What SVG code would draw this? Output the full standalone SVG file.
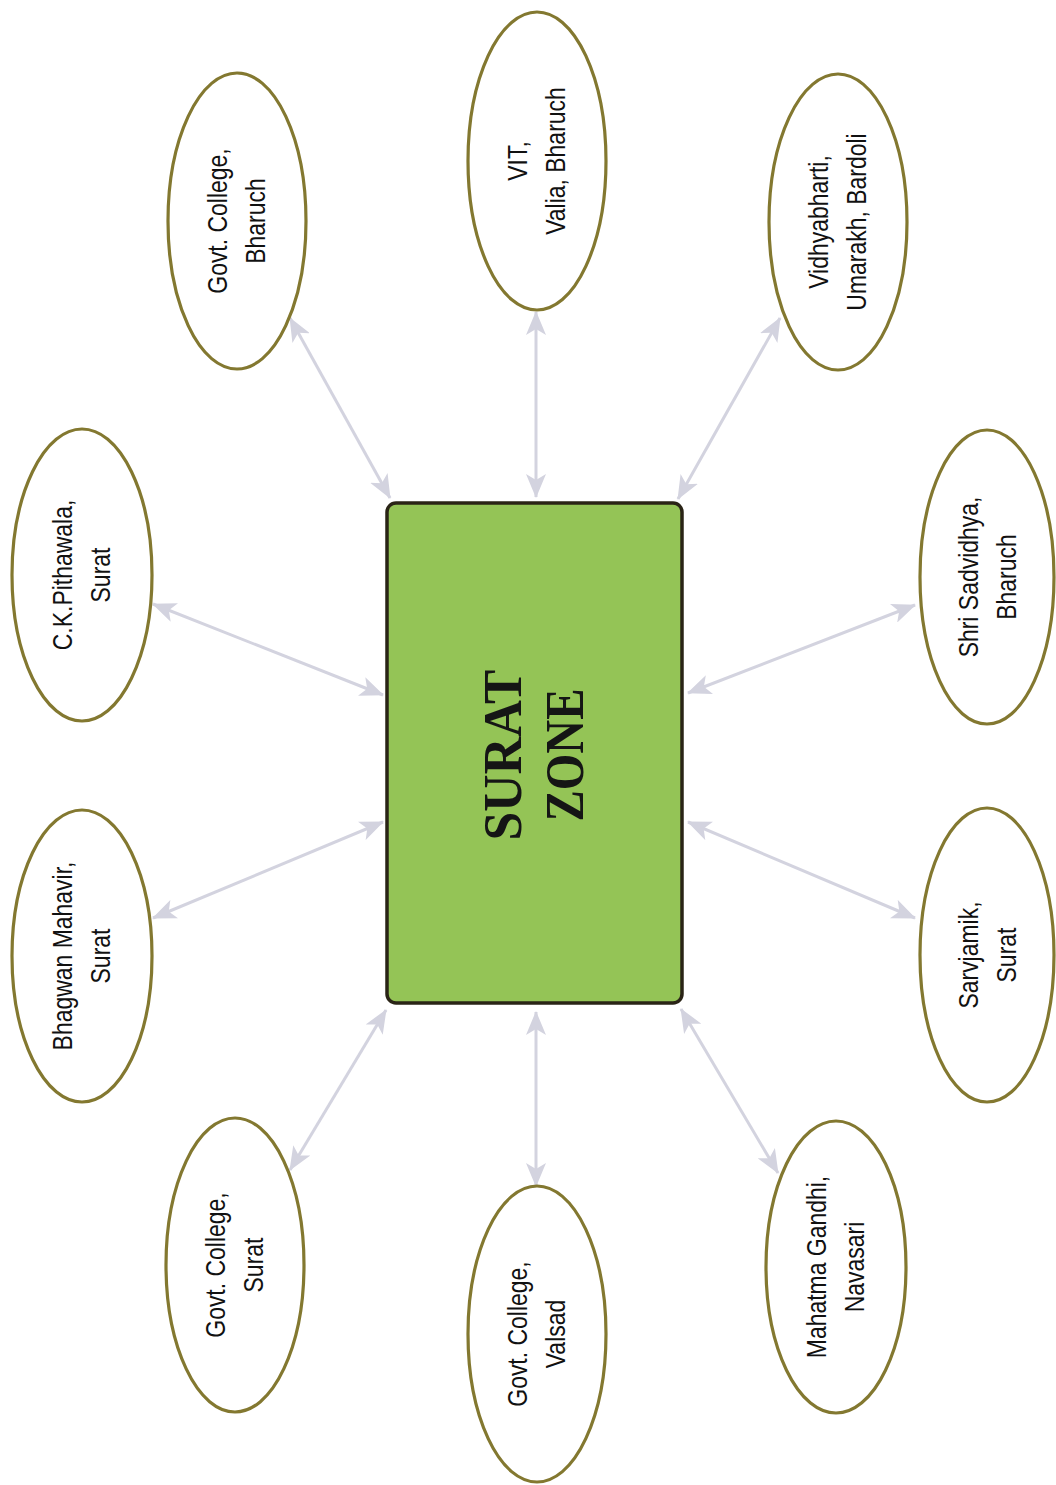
<svg xmlns="http://www.w3.org/2000/svg" width="1056" height="1485" viewBox="0 0 1056 1485">
  <style>
    .college { fill: #ffffff; stroke: #837830; stroke-width: 3.2; }
    .label { font-family: "Liberation Sans", Arial, sans-serif; font-size: 28px; fill: #111111; text-anchor: middle; }
    .hub { fill: #94c456; stroke: #2a2416; stroke-width: 3.5; }
    .hubtext { font-family: "Liberation Serif", "Times New Roman", serif; font-size: 54px; font-weight: bold; fill: #151515; text-anchor: middle; }
    .link { stroke: #d3d3df; stroke-width: 3; fill: none; marker-start: url(#head); marker-end: url(#head); }
  </style>
  <defs>
    <marker id="head" viewBox="0 0 24 20" markerUnits="userSpaceOnUse" markerWidth="24" markerHeight="20" refX="23" refY="10" orient="auto-start-reverse">
      <path d="M0,0 L24,10 L0,20 L6,10 Z" fill="#d3d3df"/>
    </marker>
  </defs>

  <rect width="1056" height="1485" fill="#ffffff"/>

  <!-- double-headed links between the zone and each college -->
  <g id="connectors">
    <line class="link" x1="290" y1="318" x2="390" y2="498"/>
    <line class="link" x1="536" y1="312" x2="536" y2="497"/>
    <line class="link" x1="780" y1="318" x2="678" y2="499"/>
    <line class="link" x1="153" y1="604" x2="383" y2="695"/>
    <line class="link" x1="915" y1="605" x2="688" y2="693"/>
    <line class="link" x1="153" y1="918" x2="383" y2="822"/>
    <line class="link" x1="915" y1="918" x2="688" y2="822"/>
    <line class="link" x1="290" y1="1170" x2="386" y2="1010"/>
    <line class="link" x1="536" y1="1186" x2="536" y2="1012"/>
    <line class="link" x1="778" y1="1173" x2="681" y2="1009"/>
  </g>

  <!-- central zone -->
  <g id="surat-zone">
    <rect class="hub" x="387" y="503" width="295" height="500" rx="9"/>
    <g transform="rotate(-90 534 755)">
      <text class="hubtext" x="534" y="742" textLength="171" lengthAdjust="spacingAndGlyphs">SURAT</text>
      <text class="hubtext" x="534" y="804" textLength="133" lengthAdjust="spacingAndGlyphs">ZONE</text>
    </g>
  </g>

  <!-- college labels: upright text turned a quarter-turn, narrowed to 82% -->
  <g id="govt-college-bharuch">
    <ellipse class="college" cx="237" cy="221" rx="69" ry="148"/>
    <g transform="translate(237 221) rotate(-90) scale(0.82 1)">
      <text class="label" x="0" y="-10">Govt. College,</text>
      <text class="label" x="0" y="28">Bharuch</text>
    </g>
  </g>

  <g id="vit-valia">
    <ellipse class="college" cx="537" cy="161" rx="69" ry="149"/>
    <g transform="translate(537 161) rotate(-90) scale(0.82 1)">
      <text class="label" x="0" y="-10">VIT,</text>
      <text class="label" x="0" y="28">Valia, Bharuch</text>
    </g>
  </g>

  <g id="vidhyabharti">
    <ellipse class="college" cx="838" cy="222" rx="69" ry="148"/>
    <g transform="translate(838 222) rotate(-90) scale(0.82 1)">
      <text class="label" x="0" y="-10">Vidhyabharti,</text>
      <text class="label" x="0" y="28">Umarakh, Bardoli</text>
    </g>
  </g>

  <g id="ck-pithawala">
    <ellipse class="college" cx="82" cy="575" rx="70" ry="146"/>
    <g transform="translate(82 575) rotate(-90) scale(0.82 1)">
      <text class="label" x="0" y="-10">C.K.Pithawala,</text>
      <text class="label" x="0" y="28">Surat</text>
    </g>
  </g>

  <g id="shri-sadvidhya">
    <ellipse class="college" cx="987" cy="577" rx="67" ry="147"/>
    <g transform="translate(987 577) rotate(-90) scale(0.82 1)">
      <text class="label" x="0" y="-9">Shri Sadvidhya,</text>
      <text class="label" x="0" y="29">Bharuch</text>
    </g>
  </g>

  <g id="bhagwan-mahavir">
    <ellipse class="college" cx="82" cy="956" rx="70" ry="146"/>
    <g transform="translate(82 956) rotate(-90) scale(0.82 1)">
      <text class="label" x="0" y="-10">Bhagwan Mahavir,</text>
      <text class="label" x="0" y="28">Surat</text>
    </g>
  </g>

  <g id="sarvjamik">
    <ellipse class="college" cx="987" cy="955" rx="67" ry="147"/>
    <g transform="translate(987 955) rotate(-90) scale(0.82 1)">
      <text class="label" x="0" y="-9">Sarvjamik,</text>
      <text class="label" x="0" y="29">Surat</text>
    </g>
  </g>

  <g id="govt-college-surat">
    <ellipse class="college" cx="235" cy="1265" rx="69" ry="147"/>
    <g transform="translate(235 1265) rotate(-90) scale(0.82 1)">
      <text class="label" x="0" y="-10">Govt. College,</text>
      <text class="label" x="0" y="28">Surat</text>
    </g>
  </g>

  <g id="govt-college-valsad">
    <ellipse class="college" cx="537" cy="1334" rx="69" ry="148"/>
    <g transform="translate(537 1334) rotate(-90) scale(0.82 1)">
      <text class="label" x="0" y="-10">Govt. College,</text>
      <text class="label" x="0" y="28">Valsad</text>
    </g>
  </g>

  <g id="mahatma-gandhi">
    <ellipse class="college" cx="836" cy="1267" rx="70" ry="146"/>
    <g transform="translate(836 1267) rotate(-90) scale(0.82 1)">
      <text class="label" x="0" y="-10">Mahatma Gandhi,</text>
      <text class="label" x="0" y="28">Navasari</text>
    </g>
  </g>
</svg>
